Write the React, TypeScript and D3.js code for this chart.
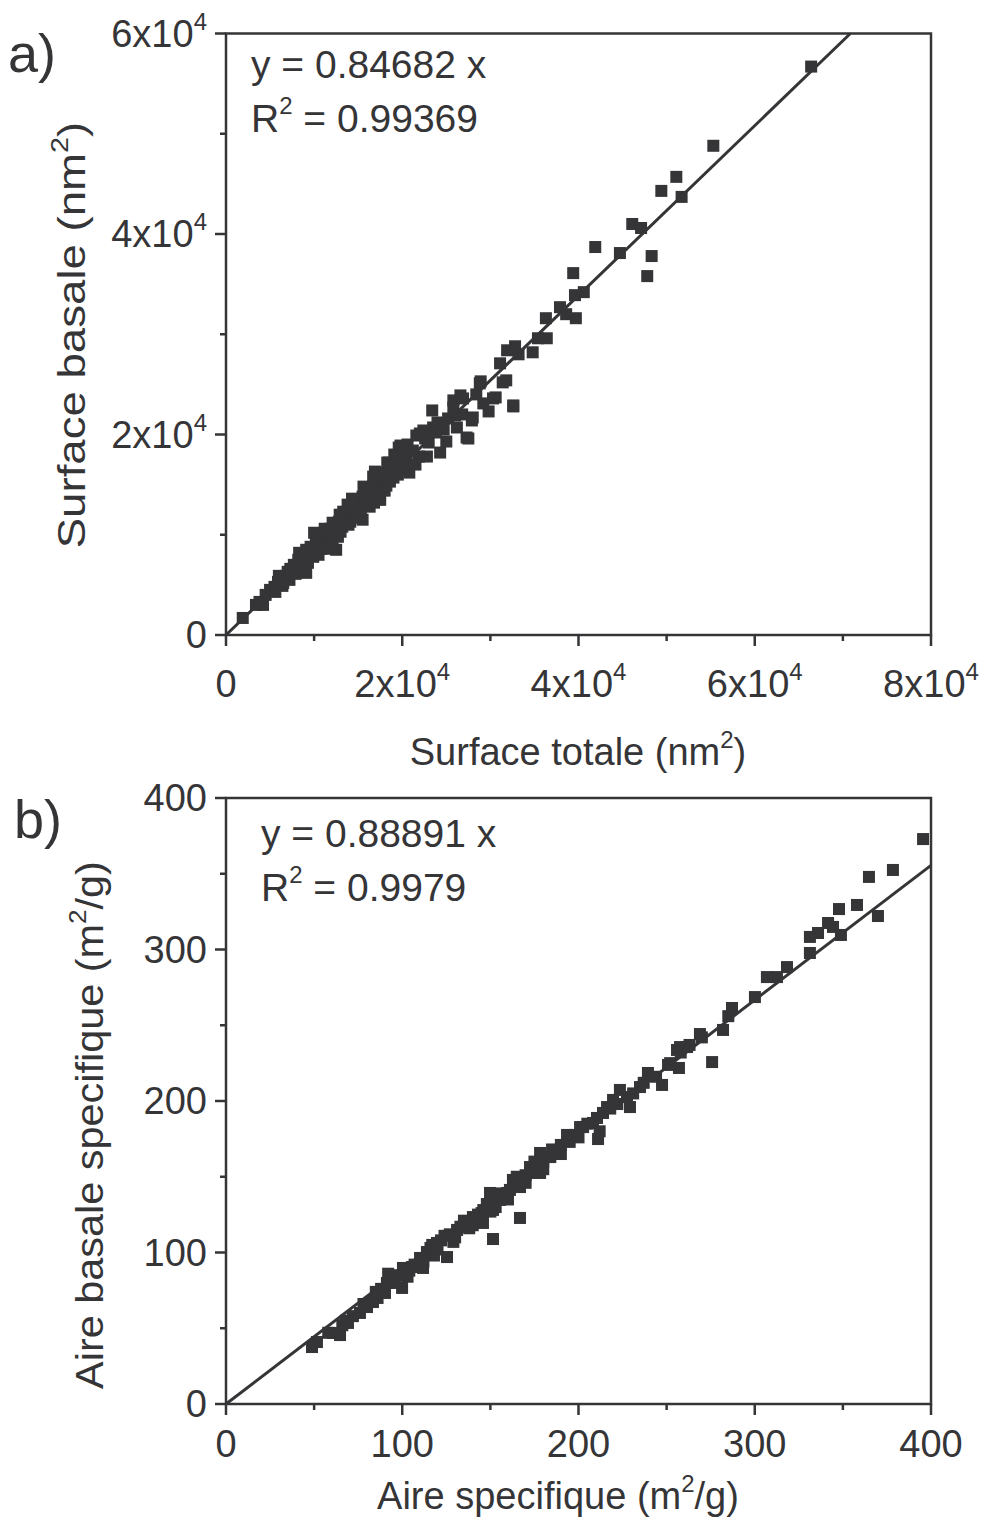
import React from "react";
import * as d3 from "d3";

// ---------- Panel a data: Surface totale (nm²) vs Surface basale (nm²) ----------
const surfaceTotale = [
  66400, 55300, 51100, 49400, 51700, 46100, 47100, 41900, 44700, 48300,
  47800, 39400, 40600, 39600, 37900, 38600, 39700, 36300, 36400, 35400,
  34800, 32800, 31900, 33200, 31100, 31800, 28900, 32600, 30600, 23400,
  25800, 26900, 27900, 28800, 31400, 22000, 23500, 26200, 27300,
  19800, 20500, 22800, 24300, 22400, 25800, 26600, 27500, 28000, 29200,
  30300, 32600, 16700, 18300, 17500, 15200, 13700, 11500,
  1900, 3400, 4500, 5900, 7000, 8200, 9100, 10200, 11300, 12100,
  13300, 14400, 15500, 16700, 17400, 18500, 19600, 20800, 21900, 7600,
  12100, 15500, 17400, 9100, 12500,
  3800, 4200, 5000, 5500, 6200, 6500, 6800, 7300, 7700, 8000,
  8500, 8700, 9400, 9600, 9900, 10500, 10800, 11000, 11700, 11900,
  12400, 12800, 13000, 13500, 14000, 14100, 14600, 14900, 15100, 15800,
  16000, 16300, 16500, 17000, 17700, 18000, 18200, 18800, 19000, 19300,
  20100, 20300, 21200, 21500, 23000, 24000, 24700, 25200, 26000, 10000,
  13800, 8300, 6000,
  10500, 11500, 12000, 12700, 13200, 13900, 14500, 15300, 16000, 16800,
  17200, 18000, 18600, 19500, 20000, 9300, 8700, 7900, 7200, 6400,
  5600, 11200, 12900, 14300, 15600, 16900, 19100, 20600, 21600, 22600,
  23800, 25000, 26800, 29800, 28400,
];
const surfaceBasale = [
  56700, 48800, 45700, 44300, 43700, 41000, 40600, 38700, 38100, 37800,
  35800, 36100, 34200, 33900, 32700, 32000, 31600, 31600, 29600, 29600,
  28200, 28800, 28400, 28000, 27100, 25400, 25300, 22800, 23700, 22400,
  22700, 23600, 21400, 25100, 25200, 20100, 20700, 20700, 19700,
  18900, 17500, 17800, 18200, 20400, 23400, 23900, 19600, 21700, 23100,
  23600, 22900, 15800, 17200, 13500, 12200, 11500, 9200,
  1700, 3000, 4000, 5300, 6300, 7500, 8500, 9500, 10200, 11200,
  12300, 13000, 13800, 14800, 16200, 17200, 18700, 16200, 17800, 6200,
  8800, 11500, 13500, 6200, 8500,
  3300, 3000, 4500, 4800, 5600, 5200, 5900, 6600, 7000, 6700,
  7200, 8000, 8100, 8800, 7800, 9000, 8600, 9900, 9700, 10600,
  10200, 11300, 10300, 11600, 12600, 11300, 12200, 13500, 12700, 13400,
  14400, 12800, 13700, 15200, 14600, 16000, 14900, 16700, 15700, 17600,
  18200, 16900, 18400, 17000, 19200, 21200, 20500, 21600, 21900, 10200,
  13000, 8200, 5900,
  8000, 8600, 9600, 9800, 10800, 11000, 11700, 12400, 13000, 13200,
  14100, 14400, 15300, 16000, 16600, 7200, 6900, 6100, 5500, 4900,
  4300, 10600, 12000, 13600, 14800, 16300, 18000, 19000, 19900, 19600,
  20200, 19300, 22000, 22300, 24000,
];

// ---------- Panel b data: Aire specifique (m²/g) vs Aire basale specifique (m²/g) ----------
const aireSpecifique = [
  395.5, 378.4, 364.8, 369.9, 358.0, 347.8, 348.9, 341.6, 344.4, 335.9,
  331.3, 331.3, 318.3, 312.6, 306.9, 300.1, 287.1, 282.0, 275.8, 268.9,
  261.6, 257.6, 255.9, 257.0, 250.8, 247.4, 239.4, 234.9, 229.2, 227.5,
  223.5, 219.6, 216.2, 213.9, 210.5, 208.2, 211.1, 202.6, 198.0, 193.5,
  187.8, 178.2, 178.2, 172.5, 168.5, 162.8, 166.8, 159.4,
  48.8, 51.6, 60.7, 64.7, 69.2, 76.0, 80.0, 83.4, 90.2, 91.3,
  95.9, 99.9, 100.4, 105.5, 111.8, 110.1, 114.0, 119.7, 125.4, 131.1,
  136.7, 140.1, 151.5, 145.8, 151.5, 155.5, 161.1, 166.8, 149.8, 172.5,
  187.8, 200.9,
  72, 78, 86, 88, 94, 97, 103, 107, 116, 118,
  122, 127, 129, 133, 138, 143, 146, 148, 153, 157,
  163, 170, 175, 180, 184, 190, 195, 205, 212, 218,
  222, 231, 237, 244, 252, 258, 263, 270, 285, 66,
  58, 85, 92, 68,
  110, 120, 130, 140, 150, 160, 170, 180, 190, 200,
  135, 145, 155, 165, 175, 185, 96, 100, 104, 112,
  117, 124,
];
const aireBasale = [
  372.9, 352.5, 347.9, 322.1, 329.4, 326.7, 309.6, 317.5, 314.9, 310.9,
  308.3, 297.7, 288.4, 281.8, 281.8, 268.6, 261.4, 246.9, 225.7, 244.2,
  235.6, 235.6, 233.7, 221.8, 223.8, 210.6, 218.5, 209.2, 196.0, 202.6,
  207.3, 200.7, 196.0, 192.1, 188.8, 185.5, 174.9, 182.8, 177.6, 177.6,
  165.7, 165.7, 152.5, 152.5, 147.9, 147.9, 143.2, 139.3,
  37.6, 40.9, 46.9, 45.5, 53.5, 60.1, 64.0, 67.3, 73.3, 79.9,
  83.8, 76.6, 89.8, 90.4, 89.8, 96.4, 100.3, 106.3, 97.0, 114.9,
  119.5, 123.4, 108.9, 119.5, 128.1, 134.7, 141.3, 122.8, 139.3, 156.4,
  167.7, 182.8,
  58, 66, 70, 76, 80, 85, 84, 92, 103, 98,
  108, 112, 107, 117, 116, 125, 128, 132, 130, 137,
  145, 151, 156, 160, 163, 171, 173, 185, 180, 195,
  198, 205, 212, 216, 225, 232, 237, 242, 256, 52,
  47, 74, 86, 55,
  92, 102, 110, 118, 127, 135, 146, 155, 165, 176,
  121, 126, 139, 150, 160, 168, 80, 85, 88, 94,
  105, 111,
];

// ---------- Fits and tick values ----------
const slopeA = 0.84682;
const r2A = "0.99369";
const slopeB = 0.88891;
const r2B = "0.9979";

const xTicksA = [0, 20000, 40000, 60000, 80000];
const xMinorA = [10000, 30000, 50000, 70000];
const yTicksA = [0, 20000, 40000, 60000];
const yMinorA = [10000, 30000, 50000];

const xTicksB = [0, 100, 200, 300, 400];
const xMinorB = [50, 150, 250, 350];
const yTicksB = [0, 100, 200, 300, 400];
const yMinorB = [50, 150, 250, 350];

const FONT = "'Liberation Sans', Arial, Helvetica, sans-serif";
const INK = "#353538";

type LabelFn = (v: number) => React.ReactNode;

const sciLabel: LabelFn = (v) =>
  v === 0 ? (
    "0"
  ) : (
    <>
      {`${v / 10000}x10`}
      <tspan fontSize={24} dy={-17}>4</tspan>
    </>
  );
const plainLabel: LabelFn = (v) => `${v}`;

interface PanelProps {
  left: number;
  top: number;
  width: number;
  height: number;
  xMax: number;
  yMax: number;
  xs: number[];
  ys: number[];
  slope: number;
  r2: string;
  xTicks: number[];
  xMinor: number[];
  yTicks: number[];
  yMinor: number[];
  fmt: LabelFn;
  letter: string;
  letterPos: [number, number];
  eqPos: [number, number];
  xTitle: React.ReactNode;
  xTitlePos: [number, number];
  yTitle: React.ReactNode;
  yTitlePos: [number, number];
  yTitleStretch: number;
  xLabelBaseline: number;
}

function Panel(p: PanelProps) {
  const x = d3.scaleLinear().domain([0, p.xMax]).range([p.left, p.left + p.width]);
  const y = d3.scaleLinear().domain([0, p.yMax]).range([p.top + p.height, p.top]);
  const bottom = p.top + p.height;
  const xEnd = Math.min(p.xMax, p.yMax / p.slope);
  const line = d3
    .line<number>()
    .x((d) => x(d))
    .y((d) => y(d * p.slope));
  const size = 12;
  return (
    <g fontFamily={FONT} fill={INK}>
      {p.xs.map((v, i) => (
        <rect
          key={i}
          x={x(v) - size / 2}
          y={y(p.ys[i]) - size / 2}
          width={size}
          height={size}
          fill={INK}
        />
      ))}
      <path d={line([0, xEnd]) ?? ""} stroke={INK} strokeWidth={3} fill="none" />
      <rect
        x={p.left}
        y={p.top}
        width={p.width}
        height={p.height}
        fill="none"
        stroke={INK}
        strokeWidth={2.5}
      />
      {p.xTicks.map((t) => (
        <g key={`xt${t}`}>
          <line x1={x(t)} x2={x(t)} y1={bottom} y2={bottom + 11} stroke={INK} strokeWidth={2.5} />
          <text x={x(t)} y={p.xLabelBaseline} fontSize={38} textAnchor="middle">
            {p.fmt(t)}
          </text>
        </g>
      ))}
      {p.xMinor.map((t) => (
        <line key={`xm${t}`} x1={x(t)} x2={x(t)} y1={bottom} y2={bottom + 6} stroke={INK} strokeWidth={2.5} />
      ))}
      {p.yTicks.map((t) => (
        <g key={`yt${t}`}>
          <line x1={p.left - 11} x2={p.left} y1={y(t)} y2={y(t)} stroke={INK} strokeWidth={2.5} />
          <text x={p.left - 19} y={y(t) + 13} fontSize={38} textAnchor="end">
            {p.fmt(t)}
          </text>
        </g>
      ))}
      {p.yMinor.map((t) => (
        <line key={`ym${t}`} x1={p.left - 6} x2={p.left} y1={y(t)} y2={y(t)} stroke={INK} strokeWidth={2.5} />
      ))}
      <text x={p.eqPos[0]} y={p.eqPos[1]} fontSize={39}>
        {`y = ${p.slope} x`}
      </text>
      <text x={p.eqPos[0]} y={p.eqPos[1] + 54} fontSize={39}>
        R<tspan fontSize={24} dy={-18}>2</tspan>
        <tspan dy={18}>{` = ${p.r2}`}</tspan>
      </text>
      <text x={p.letterPos[0]} y={p.letterPos[1]} fontSize={54}>
        {p.letter}
      </text>
      <text x={p.xTitlePos[0]} y={p.xTitlePos[1]} fontSize={38} textAnchor="middle">
        {p.xTitle}
      </text>
      <g transform={`translate(${p.yTitlePos[0]},${p.yTitlePos[1]}) scale(1,${p.yTitleStretch}) rotate(-90)`}>
        <text x={0} y={0} fontSize={38} textAnchor="middle">
          {p.yTitle}
        </text>
      </g>
    </g>
  );
}

export default function App() {
  return (
    <svg width={984} height={1522} style={{ position: "absolute", left: 0, top: 0, background: "#fff" }}>
      <rect width={984} height={1522} fill="#fff" />
      <Panel
        left={226}
        top={33.5}
        width={705}
        height={601.5}
        xMax={80000}
        yMax={60000}
        xs={surfaceTotale}
        ys={surfaceBasale}
        slope={slopeA}
        r2={r2A}
        xTicks={xTicksA}
        xMinor={xMinorA}
        yTicks={yTicksA}
        yMinor={yMinorA}
        fmt={sciLabel}
        letter="a)"
        letterPos={[8, 72]}
        eqPos={[251, 78]}
        xTitle={
          <>
            Surface totale (nm<tspan fontSize={24} dy={-17}>2</tspan>
            <tspan dy={17}>)</tspan>
          </>
        }
        xTitlePos={[578, 765]}
        yTitle={
          <>
            Surface basale (nm<tspan fontSize={24} dy={-17}>2</tspan>
            <tspan dy={17}>)</tspan>
          </>
        }
        yTitlePos={[85, 335]}
        yTitleStretch={1.2}
        xLabelBaseline={697}
      />
      <Panel
        left={226}
        top={798}
        width={705}
        height={606}
        xMax={400}
        yMax={400}
        xs={aireSpecifique}
        ys={aireBasale}
        slope={slopeB}
        r2={r2B}
        xTicks={xTicksB}
        xMinor={xMinorB}
        yTicks={yTicksB}
        yMinor={yMinorB}
        fmt={plainLabel}
        letter="b)"
        letterPos={[14, 838]}
        eqPos={[261, 847]}
        xTitle={
          <>
            Aire specifique (m<tspan fontSize={24} dy={-17}>2</tspan>
            <tspan dy={17}>/g)</tspan>
          </>
        }
        xTitlePos={[558, 1509]}
        yTitle={
          <>
            Aire basale specifique (m<tspan fontSize={24} dy={-17}>2</tspan>
            <tspan dy={17}>/g)</tspan>
          </>
        }
        yTitlePos={[103, 1125]}
        yTitleStretch={1.09}
        xLabelBaseline={1457}
      />
    </svg>
  );
}
